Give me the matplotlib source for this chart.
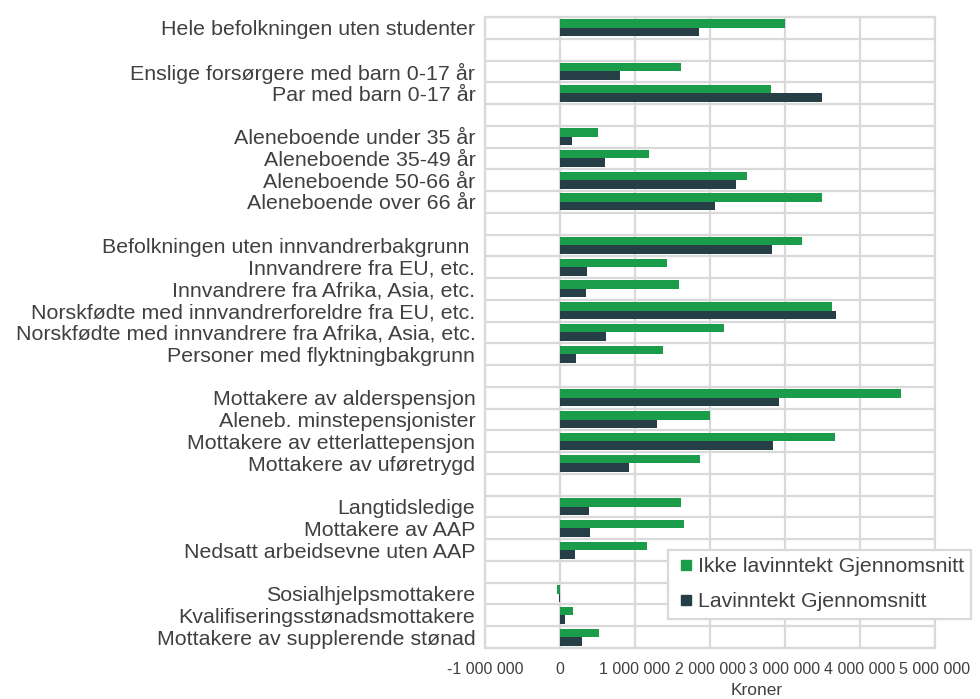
import numpy as np
import matplotlib.pyplot as plt
from matplotlib.lines import Line2D
from matplotlib.ticker import FuncFormatter, MultipleLocator

plt.rcParams["font.family"] = ["Liberation Sans", "DejaVu Sans"]

# Blank strings are the empty spacer rows between groups
categories = [
    "Hele befolkningen uten studenter",
    "",
    "Enslige forsørgere med barn 0-17 år",
    "Par med barn 0-17 år",
    "",
    "Aleneboende under 35 år",
    "Aleneboende 35-49 år",
    "Aleneboende 50-66 år",
    "Aleneboende over 66 år",
    "",
    "Befolkningen uten innvandrerbakgrunn ",
    "Innvandrere fra EU, etc.",
    "Innvandrere fra Afrika, Asia, etc.",
    "Norskfødte med innvandrerforeldre fra EU, etc.",
    "Norskfødte med innvandrere fra Afrika, Asia, etc.",
    "Personer med flyktningbakgrunn",
    "",
    "Mottakere av alderspensjon",
    "Aleneb. minstepensjonister",
    "Mottakere av etterlattepensjon",
    "Mottakere av uføretrygd",
    "",
    "Langtidsledige",
    "Mottakere av AAP",
    "Nedsatt arbeidsevne uten AAP",
    "",
    "Sosialhjelpsmottakere",
    "Kvalifiseringsstønadsmottakere",
    "Mottakere av supplerende stønad",
]

ikke_lav = [
    3000000, np.nan, 1610000, 2810000, np.nan,
    510000, 1190000, 2490000, 3490000, np.nan,
    3230000, 1420000, 1590000, 3620000, 2190000, 1370000, np.nan,
    4540000, 2000000, 3660000, 1860000, np.nan,
    1610000, 1650000, 1160000, np.nan,
    -40000, 170000, 520000,
]

lav = [
    1850000, np.nan, 800000, 3490000, np.nan,
    160000, 600000, 2350000, 2060000, np.nan,
    2830000, 360000, 340000, 3680000, 610000, 210000, np.nan,
    2920000, 1290000, 2840000, 920000, np.nan,
    380000, 400000, 200000, np.nan,
    -10000, 60000, 290000,
]

series_names = ["Ikke lavinntekt Gjennomsnitt", "Lavinntekt Gjennomsnitt"]

GREEN = "#1a9c4a"
DARK = "#263f46"
GRID = "#d9d9d9"
TEXT = "#404040"

fig = plt.figure(figsize=(9.8, 6.99), dpi=100)
ax = fig.add_axes([485 / 980, 1 - 648 / 699, 450 / 980, 631 / 699])

y = np.arange(len(categories))
h = 0.39
ax.barh(y - h / 2, ikke_lav, height=h, color=GREEN, zorder=3)
ax.barh(y + h / 2, lav, height=h, color=DARK, zorder=3)

ax.set_xlim(-1000000, 5000000)
ax.set_ylim(len(categories) - 0.5, -0.5)
ax.xaxis.set_major_locator(MultipleLocator(1000000))
ax.xaxis.set_major_formatter(
    FuncFormatter(lambda v, p: f"{int(round(v)):,}".replace(",", " "))
)

ax.set_yticks(y)
ax.set_yticklabels(categories)
ax.set_yticks(np.arange(len(categories) + 1) - 0.5, minor=True)

ax.grid(axis="x", which="major", color=GRID, linewidth=1.6, zorder=0)
ax.grid(axis="y", which="minor", color=GRID, linewidth=1.6, zorder=0)
ax.tick_params(axis="both", which="both", length=0)
ax.tick_params(axis="y", labelsize=15.4, colors=TEXT, pad=7)
ax.tick_params(axis="x", labelsize=11.5, colors=TEXT, pad=10)
for s in ax.spines.values():
    s.set_color(GRID)
    s.set_linewidth(1.6)

ax.set_xlabel("Kroner", fontsize=12.5, color=TEXT)
ax.xaxis.set_label_coords((757 - 485) / 450, -0.056)

handles = [
    Line2D([], [], marker="s", linestyle="none", markersize=6.5, color=GREEN),
    Line2D([], [], marker="s", linestyle="none", markersize=6.5, color=DARK),
]
leg = ax.legend(
    handles,
    series_names,
    loc="upper left",
    bbox_to_anchor=(668 / 980, 1 - 550 / 699),
    bbox_transform=fig.transFigure,
    fontsize=15.3,
    frameon=True,
    fancybox=False,
    borderaxespad=0,
    handlelength=1.0,
    handletextpad=0.05,
    labelspacing=0.75,
    borderpad=0.35,
)
leg.get_frame().set_edgecolor(GRID)
leg.get_frame().set_linewidth(1.6)
leg.get_frame().set_alpha(1)
for t in leg.get_texts():
    t.set_color(TEXT)

fig.savefig("out.png", dpi=100)
